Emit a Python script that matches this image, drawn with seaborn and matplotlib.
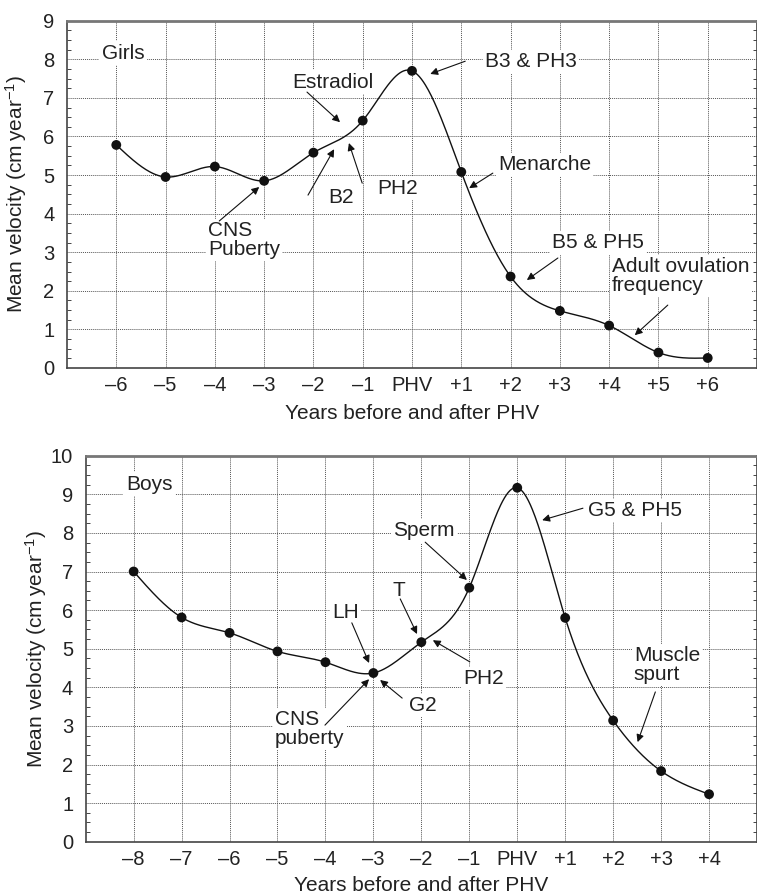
import numpy as np
import pandas as pd
import matplotlib
matplotlib.use("Agg")
import matplotlib.pyplot as plt
import seaborn as sns
from matplotlib.ticker import MultipleLocator

# ---------------- data ----------------
girls_years = [-6, -5, -4, -3, -2, -1, 0, 1, 2, 3, 4, 5, 6]
girls_velocity = [5.78, 4.95, 5.22, 4.85, 5.58, 6.41, 7.70, 5.08, 2.37, 1.48, 1.10, 0.40, 0.26]
girls_ticklabels = ["\u20136", "\u20135", "\u20134", "\u20133", "\u20132", "\u20131",
                    "PHV", "+1", "+2", "+3", "+4", "+5", "+6"]

boys_years = [-8, -7, -6, -5, -4, -3, -2, -1, 0, 1, 2, 3, 4]
boys_velocity = [7.00, 5.81, 5.41, 4.93, 4.65, 4.37, 5.17, 6.58, 9.17, 5.80, 3.14, 1.83, 1.23]
boys_ticklabels = ["\u20138", "\u20137", "\u20136", "\u20135", "\u20134", "\u20133", "\u20132",
                   "\u20131", "PHV", "+1", "+2", "+3", "+4"]

# annotation labels: (text, text x, text y, va, arrow start, arrow head)
girls_notes = [
    ("Estradiol", -2.43, 7.41, "center", (-2.13, 7.15), (-1.46, 6.37)),
    ("B3 & PH3", 1.48, 7.93, "center", (1.08, 7.95), (0.37, 7.62)),
    ("Menarche", 1.74, 5.28, "center", (1.64, 5.05), (1.16, 4.66)),
    ("PH2", -0.71, 4.66, "center", (-1.01, 4.79), (-1.28, 5.83)),
    ("B2", -1.70, 4.43, "center", (-2.11, 4.48), (-1.58, 5.67)),
    ("CNS\nPuberty", -4.14, 3.80, "top", (-3.91, 3.81), (-3.10, 4.69)),
    ("B5 & PH5", 2.84, 3.24, "center", (2.96, 2.85), (2.33, 2.28)),
    ("Adult ovulation\nfrequency", 4.06, 2.88, "top", (5.19, 1.63), (4.52, 0.85)),
]
boys_notes = [
    ("LH", -3.86, 5.95, "center", (-3.45, 5.67), (-3.09, 4.63)),
    ("T", -2.61, 6.52, "center", (-2.44, 6.29), (-2.09, 5.38)),
    ("Sperm", -2.59, 8.05, "center", (-1.92, 7.76), (-1.05, 6.78)),
    ("G5 & PH5", 1.47, 8.59, "center", (1.37, 8.64), (0.52, 8.33)),
    ("PH2", -1.13, 4.22, "center", (-0.99, 4.66), (-1.76, 5.22)),
    ("G2", -2.26, 3.52, "center", (-2.40, 3.72), (-2.86, 4.19)),
    ("CNS\npuberty", -5.05, 3.42, "top", (-4.01, 3.02), (-3.09, 4.21)),
    ("Muscle\nspurt", 2.43, 5.08, "top", (2.88, 3.88), (2.51, 2.58)),
]

# ---------------- style ----------------
sns.set_theme(style="ticks")
plt.rcParams["font.family"] = ["Liberation Sans", "DejaVu Sans"]
plt.rcParams["mathtext.fontset"] = "custom"
plt.rcParams["mathtext.rm"] = "Liberation Sans"
plt.rcParams["mathtext.it"] = "Liberation Sans"
TXT = "#222222"
FS = 15
TFS = 14.5


def natural_spline(x, y, n=600):
    x = np.asarray(x, float)
    y = np.asarray(y, float)
    k = len(x)
    h = np.diff(x)
    A = np.zeros((k, k))
    b = np.zeros(k)
    A[0, 0] = A[-1, -1] = 1
    for i in range(1, k - 1):
        A[i, i - 1] = h[i - 1]
        A[i, i] = 2 * (h[i - 1] + h[i])
        A[i, i + 1] = h[i]
        b[i] = 6 * ((y[i + 1] - y[i]) / h[i] - (y[i] - y[i - 1]) / h[i - 1])
    M = np.linalg.solve(A, b)
    xs = np.linspace(x[0], x[-1], n)
    idx = np.clip(np.searchsorted(x, xs) - 1, 0, k - 2)
    x0, x1 = x[idx], x[idx + 1]
    hh = x1 - x0
    t0 = x1 - xs
    t1 = xs - x0
    ys = (M[idx] * t0 ** 3 + M[idx + 1] * t1 ** 3) / (6 * hh) \
        + (y[idx] / hh - M[idx] * hh / 6) * t0 \
        + (y[idx + 1] / hh - M[idx + 1] * hh / 6) * t1
    return xs, ys


def draw_panel(ax, years, vel, ticklabels, xlim, ylim, title, title_xy, notes, xlabel_y):
    xs, ys = natural_spline(years, vel)
    curve = pd.DataFrame({"x": xs, "y": ys})
    pts = pd.DataFrame({"x": years, "y": vel})
    sns.lineplot(data=curve, x="x", y="y", ax=ax, color="#111111", lw=1.0, zorder=3)
    sns.scatterplot(data=pts, x="x", y="y", ax=ax, color="#111111", s=50,
                    edgecolor="none", zorder=4)
    ax.set_xlim(*xlim)
    ax.set_ylim(*ylim)
    ax.set_xticks(years)
    ax.set_xticklabels(ticklabels)
    ax.set_yticks(range(ylim[0], ylim[1] + 1))
    ax.yaxis.set_minor_locator(MultipleLocator(0.25))
    ax.grid(True, which="major", linestyle=(0, (1, 1)), color="#555555", lw=0.7)
    ax.tick_params(axis="x", length=0, pad=6, labelsize=TFS, colors=TXT)
    ax.tick_params(axis="y", which="major", length=0, pad=9, labelsize=TFS, colors=TXT,
                   left=True, right=True)
    ax.tick_params(axis="y", which="minor", length=3, width=0.7, direction="in",
                   left=True, right=True, color="#444444")
    for side in ["left", "right", "bottom"]:
        ax.spines[side].set_color("#444444")
        ax.spines[side].set_linewidth(1.2)
    ax.spines["top"].set_color("#777777")
    ax.spines["top"].set_linewidth(2.0)
    ax.set_xlabel("Years before and after PHV", fontsize=FS, color=TXT)
    ax.set_ylabel("Mean velocity (cm\u2009year$^{-1}$)", fontsize=FS, color=TXT)
    ax.yaxis.set_label_coords(-0.055, 0.5)
    ax.xaxis.set_label_coords(0.5, xlabel_y)
    ax.text(title_xy[0], title_xy[1], title, fontsize=FS, color=TXT, ha="left",
            va="center", zorder=5,
            bbox=dict(facecolor="white", edgecolor="none", pad=2))
    for text, tx, ty, va, start, head in notes:
        ax.text(tx, ty, text, fontsize=FS, color=TXT, ha="left", va=va,
                linespacing=1.0, zorder=5,
                bbox=dict(facecolor="white", edgecolor="none", pad=1.5))
        ax.annotate("", xy=head, xytext=start, zorder=6,
                    arrowprops=dict(arrowstyle="-|>", color="#111111", lw=0.8,
                                    mutation_scale=11, shrinkA=0, shrinkB=0))


fig = plt.figure(figsize=(7.57, 8.96), dpi=100)
ax1 = fig.add_axes([0.0885, 0.5893, 0.9115, 0.3876])
ax2 = fig.add_axes([0.1132, 0.0606, 0.8868, 0.4308])

draw_panel(ax1, girls_years, girls_velocity, girls_ticklabels, (-7, 7), (0, 9),
           "Girls", (-6.29, 8.16), girls_notes, -0.105)
draw_panel(ax2, boys_years, boys_velocity, boys_ticklabels, (-9, 5), (0, 10),
           "Boys", (-8.16, 9.26), boys_notes, -0.088)

fig.savefig("out.png", dpi=100)
